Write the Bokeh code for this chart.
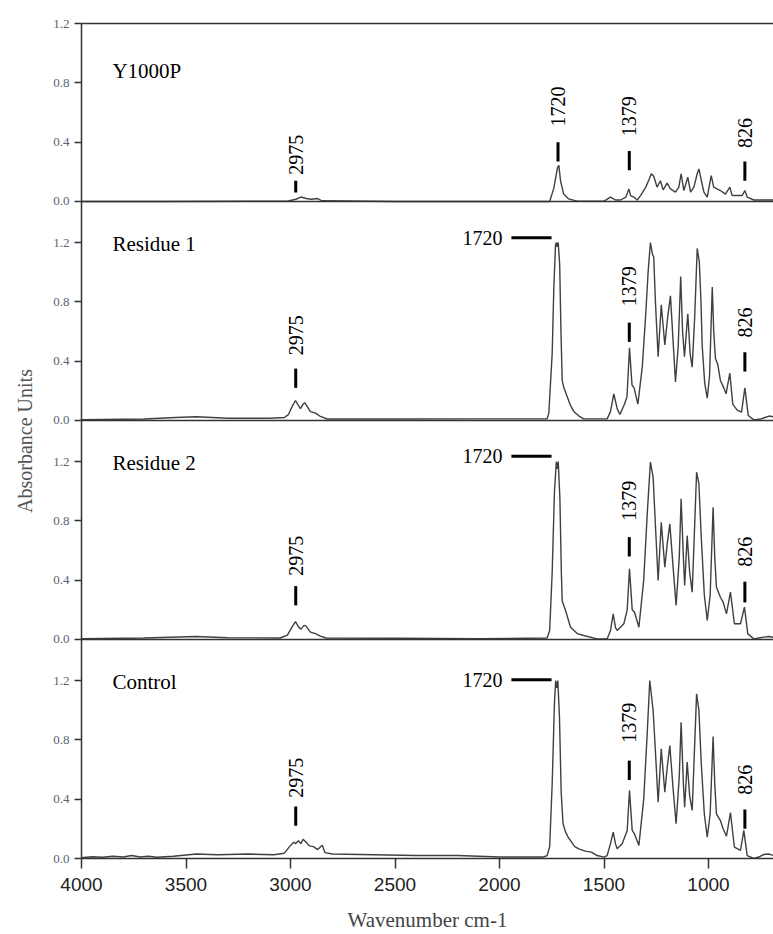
import math
from bokeh.plotting import figure
from bokeh.models import Range1d, FixedTicker, CustomJSTickFormatter, LinearAxis, Span
from bokeh.core.properties import value
from bokeh.embed import file_html
from bokeh.resources import INLINE

# ---------------- data ----------------
panel_names = ["Y1000P", "Residue 1", "Residue 2", "Control"]

y1000p_wn = [4000, 3600, 3200, 3010, 2975, 2950, 2925, 2900, 2870, 2850, 2500, 2000, 1800, 1760,
             1740, 1730, 1722, 1716, 1708, 1693, 1670, 1628, 1500, 1469, 1445, 1421, 1395, 1381,
             1373, 1357, 1341, 1325, 1300, 1284, 1274, 1262, 1246, 1230, 1217, 1198, 1182, 1158,
             1142, 1131, 1118, 1099, 1086, 1070, 1054, 1046, 1034, 1022, 1006, 987, 975, 959, 943,
             919, 898, 887, 863, 839, 826, 815, 783, 760, 720, 689]
y1000p_ab = [0.0, 0.0, 0.002, 0.003, 0.015, 0.03, 0.02, 0.015, 0.02, 0.005, 0.0, 0.0, 0.0, 0.0,
             0.09, 0.17, 0.23, 0.243, 0.14, 0.05, 0.018, 0.002, 0.002, 0.03, 0.01, 0.01, 0.03, 0.085,
             0.04, 0.03, 0.01, 0.04, 0.097, 0.15, 0.187, 0.17, 0.097, 0.14, 0.078, 0.124, 0.085, 0.063,
             0.097, 0.187, 0.074, 0.164, 0.063, 0.097, 0.187, 0.22, 0.14, 0.063, 0.03, 0.175, 0.097, 0.085, 0.074,
             0.05, 0.097, 0.04, 0.04, 0.04, 0.074, 0.03, 0.01, 0.01, 0.01, 0.01]

res1_wn = [4000, 3700, 3550, 3450, 3300, 3100, 3030, 3010, 2990, 2976, 2962, 2952, 2940, 2932, 2918,
           2905, 2880, 2860, 2825, 2500, 2091, 1772, 1764, 1748, 1740, 1732, 1728, 1724, 1719, 1712,
           1706, 1700, 1692, 1676, 1660, 1644, 1620, 1597, 1485, 1469, 1453, 1437, 1424, 1402, 1390,
           1378, 1366, 1356, 1338, 1317, 1301, 1289, 1278, 1268, 1262, 1254, 1241, 1226, 1209, 1195,
           1182, 1170, 1158, 1145, 1133, 1124, 1115, 1099, 1088, 1078, 1066, 1054, 1044, 1036, 1030,
           1018, 1006, 995, 982, 975, 967, 956, 943, 927, 916, 898, 884, 863, 842, 826, 810, 783,
           750, 730, 710, 689]
res1_ab = [0.005, 0.01, 0.02, 0.025, 0.015, 0.015, 0.02, 0.04, 0.10, 0.135, 0.10, 0.08, 0.11, 0.12, 0.09,
           0.06, 0.05, 0.03, 0.01, 0.01, 0.011, 0.011, 0.05, 0.45, 0.9, 1.18, 1.2, 1.17, 1.2, 1.05,
           0.6, 0.27, 0.22, 0.16, 0.1, 0.06, 0.03, 0.011, 0.011, 0.06, 0.18, 0.08, 0.04, 0.11, 0.16,
           0.49, 0.24, 0.22, 0.11, 0.36, 0.7, 1.0, 1.2, 1.12, 1.1, 0.8, 0.43, 0.78, 0.51, 0.7,
           0.84, 0.55, 0.26, 0.5, 0.97, 0.6, 0.43, 0.72, 0.45, 0.36, 0.7, 1.16, 1.07, 0.8, 0.5,
           0.25, 0.15, 0.3, 0.9, 0.6, 0.42, 0.38, 0.27, 0.22, 0.18, 0.32, 0.11, 0.07, 0.056, 0.22, 0.034, 0.004,
           0.01, 0.02, 0.03, 0.025]

res2_wn = [4000, 3700, 3450, 3300, 3050, 3015, 2990, 2976, 2962, 2950, 2935, 2925, 2905, 2880, 2860,
           2830, 2500, 2100, 1772, 1760, 1748, 1737, 1728, 1724, 1719, 1711, 1704, 1700, 1684, 1660,
           1628, 1597, 1533, 1485, 1469, 1456, 1445, 1437, 1405, 1389, 1378, 1365, 1354, 1333, 1310,
           1293, 1278, 1265, 1255, 1241, 1226, 1209, 1197, 1185, 1170, 1155, 1140, 1131, 1120, 1114,
           1102, 1090, 1078, 1068, 1057, 1046, 1035, 1020, 1006, 992, 978, 970, 962, 943, 930, 914,
           895, 876, 847, 828, 812, 783, 760, 735, 710, 689]
res2_ab = [0.005, 0.01, 0.02, 0.012, 0.01, 0.03, 0.09, 0.12, 0.085, 0.07, 0.095, 0.09, 0.05, 0.04, 0.025,
           0.01, 0.008, 0.005, 0.01, 0.06, 0.45, 1.0, 1.2, 1.15, 1.2, 0.95, 0.45, 0.26, 0.196, 0.083,
           0.04, 0.027, 0.004, 0.004, 0.06, 0.173, 0.08, 0.061, 0.106, 0.2, 0.477, 0.2, 0.184, 0.083, 0.4,
           0.85, 1.196, 1.095, 0.8, 0.398, 0.79, 0.488, 0.65, 0.78, 0.5, 0.229, 0.55, 0.949, 0.55, 0.364,
           0.70, 0.45, 0.319, 0.7, 1.128, 1.05, 0.7, 0.3, 0.128, 0.3, 0.892, 0.55, 0.353, 0.285, 0.252, 0.173,
           0.319, 0.106, 0.106, 0.218, 0.038, 0.004, 0.01, 0.016, 0.02, 0.015]

ctrl_wn = [4000, 3950, 3900, 3850, 3800, 3760, 3720, 3680, 3640, 3560, 3450, 3350, 3200, 3080, 3030,
           3005, 2985, 2976, 2962, 2950, 2940, 2925, 2910, 2890, 2870, 2848, 2835, 2800, 2600, 2400,
           2200, 2000, 1790, 1772, 1760, 1748, 1737, 1731, 1726, 1721, 1713, 1705, 1696, 1684, 1670,
           1660, 1640, 1620, 1590, 1560, 1533, 1500, 1485, 1469, 1456, 1445, 1437, 1413, 1389, 1378,
           1365, 1354, 1333, 1310, 1293, 1281, 1265, 1255, 1241, 1226, 1209, 1197, 1185, 1170, 1155,
           1140, 1131, 1120, 1114, 1102, 1090, 1078, 1068, 1057, 1046, 1035, 1020, 1006, 992, 978,
           970, 962, 943, 930, 914, 895, 876, 847, 831, 815, 783, 760, 735, 710, 689]
ctrl_ab = [0.005, 0.012, 0.008, 0.015, 0.01, 0.02, 0.01, 0.015, 0.008, 0.015, 0.03, 0.025, 0.03, 0.025, 0.035,
           0.08, 0.11, 0.10, 0.12, 0.10, 0.13, 0.11, 0.085, 0.08, 0.06, 0.09, 0.04, 0.03, 0.025, 0.02,
           0.02, 0.01, 0.01, 0.02, 0.08, 0.5, 1.05, 1.2, 1.15, 1.2, 0.95, 0.45, 0.234, 0.178, 0.14,
           0.121, 0.08, 0.065, 0.05, 0.043, 0.02, 0.009, 0.02, 0.1, 0.178, 0.1, 0.065, 0.099, 0.189, 0.459,
           0.189, 0.166, 0.088, 0.4, 0.85, 1.2, 0.998, 0.75, 0.38, 0.74, 0.447, 0.62, 0.762, 0.48, 0.234,
           0.55, 0.919, 0.5, 0.346, 0.65, 0.42, 0.324, 0.7, 1.11, 1.0, 0.65, 0.3, 0.144, 0.3, 0.823,
           0.5, 0.301, 0.256, 0.2, 0.15, 0.31, 0.076, 0.054, 0.189, 0.02, 0.0, 0.01, 0.027, 0.03, 0.02]

spectra_wn = [y1000p_wn, res1_wn, res2_wn, ctrl_wn]
spectra_ab = [y1000p_ab, res1_ab, res2_ab, ctrl_ab]

x_ticks = [4000, 3500, 3000, 2500, 2000, 1500, 1000]
y_ticks = [0.0, 0.4, 0.8, 1.2]

# peak annotations
vert_peaks = ["2975", "1379", "826"]
peak_wn = [2975, 1379, 826]
vbar_lo = [[0.06, 0.21, 0.14], [0.22, 0.53, 0.33], [0.23, 0.56, 0.25], [0.22, 0.53, 0.20]]
vbar_hi = [[0.14, 0.34, 0.27], [0.35, 0.66, 0.46], [0.36, 0.69, 0.39], [0.35, 0.66, 0.33]]
vtxt_y = [[0.18, 0.44, 0.36], [0.44, 0.77, 0.56], [0.43, 0.80, 0.49], [0.41, 0.78, 0.43]]
h1720_y = [None, 1.232, 1.236, 1.205]

# ---------------- layout ----------------
SPACING = 1.4765
offsets = [3 * SPACING, 2 * SPACING, SPACING, 0.0]
Y_TOP = 3 * SPACING + 1.2

SERIF = "Liberation Serif"

p = figure(width=773, height=934, x_range=Range1d(4000, 689), y_range=Range1d(0, Y_TOP),
           output_backend="svg", toolbar_location=None,
           min_border_left=81, min_border_right=0, min_border_top=23, min_border_bottom=76)
p.xgrid.visible = False
p.ygrid.visible = False
p.outline_line_color = None
p.background_fill_color = "white"
p.border_fill_color = "white"

yt = [off + t for off in offsets for t in y_ticks]
p.yaxis.ticker = FixedTicker(ticks=yt)
p.yaxis.formatter = CustomJSTickFormatter(code="""
const sp = 1.4765;
const k = Math.floor((tick + 1e-6) / sp);
let v = Math.round((tick - k * sp) * 10) / 10;
return Math.abs(v).toFixed(1);
""")
p.yaxis.axis_label = "Absorbance Units"
p.yaxis.axis_label_text_font = SERIF
p.yaxis.axis_label_text_font_style = "normal"
p.yaxis.axis_label_text_font_size = "20px"
p.yaxis.axis_label_text_color = "#555555"
p.yaxis.axis_label_standoff = 14
p.yaxis.major_label_text_font = SERIF
p.yaxis.major_label_text_font_size = "13px"
p.yaxis.major_label_text_color = "#5a6372"
p.yaxis.major_label_standoff = 5
p.yaxis.major_tick_out = 7
p.yaxis.major_tick_in = 0
p.yaxis.minor_tick_line_color = None
p.yaxis.axis_line_color = "#333333"
p.yaxis.axis_line_width = 1.5
p.yaxis.major_tick_line_color = "#333333"
p.yaxis.major_tick_line_width = 1.3

p.xaxis.ticker = FixedTicker(ticks=x_ticks)
p.xaxis.axis_label = "Wavenumber cm-1"
p.xaxis.axis_label_text_font = SERIF
p.xaxis.axis_label_text_font_style = "normal"
p.xaxis.axis_label_text_font_size = "21px"
p.xaxis.axis_label_text_color = "#444444"
p.xaxis.axis_label_standoff = 14
p.xaxis.major_label_text_font = "Liberation Sans"
p.xaxis.major_label_text_font_size = "19px"
p.xaxis.major_label_text_color = "#222222"
p.xaxis.major_label_standoff = 9
p.xaxis.major_tick_out = 10
p.xaxis.major_tick_in = 0
p.xaxis.minor_tick_line_color = None
p.xaxis.axis_line_color = "#333333"
p.xaxis.axis_line_width = 1.5
p.xaxis.major_tick_line_color = "#333333"
p.xaxis.major_tick_line_width = 1.5

top = LinearAxis(ticker=FixedTicker(ticks=[]), major_tick_out=0, major_tick_in=0,
                 major_label_text_font_size="0px", major_label_standoff=0,
                 axis_line_color="#333333", axis_line_width=1.5, minor_tick_line_color=None)
p.add_layout(top, "above")

for off in offsets[:3]:
    p.add_layout(Span(location=off, dimension="width", line_color="#333333", line_width=1.5))

for wn, ab, off in zip(spectra_wn, spectra_ab, offsets):
    p.line(wn, [a + off for a in ab], line_color="#404040", line_width=1.4)

lab_y = [0.877, 1.187, 1.187, 1.187]
p.text(x=[3852] * 4, y=[off + ly for off, ly in zip(offsets, lab_y)], text=panel_names,
       text_font=value(SERIF), text_font_size="21px", text_color="black",
       text_align="left", text_baseline="middle")

vx, vy, vt, sx, sy0, sy1 = [], [], [], [], [], []
for i, off in enumerate(offsets):
    for j, w in enumerate(peak_wn):
        vx.append(w)
        vy.append(off + vtxt_y[i][j])
        vt.append(vert_peaks[j])
        sx.append(w)
        sy0.append(off + vbar_lo[i][j])
        sy1.append(off + vbar_hi[i][j])
vx.append(1720); vy.append(offsets[0] + 0.505); vt.append("1720")
sx.append(1720); sy0.append(offsets[0] + 0.27); sy1.append(offsets[0] + 0.40)

p.text(x=vx, y=vy, text=vt, angle=math.pi / 2, text_font=value(SERIF), text_font_size="20px",
       text_color="black", text_align="left", text_baseline="middle")
p.segment(x0=sx, y0=sy0, x1=sx, y1=sy1, line_color="black", line_width=3)

hx, hy = [], []
for off, hyv in zip(offsets[1:], h1720_y[1:]):
    hx.append(1986)
    hy.append(off + hyv)
p.text(x=hx, y=hy, text=["1720"] * 3, text_font=value(SERIF), text_font_size="20px",
       text_color="black", text_align="right", text_baseline="middle")
p.segment(x0=[1943] * 3, y0=hy, x1=[1751] * 3, y1=hy, line_color="black", line_width=3)

open("out.html", "w").write(file_html(p, INLINE))
